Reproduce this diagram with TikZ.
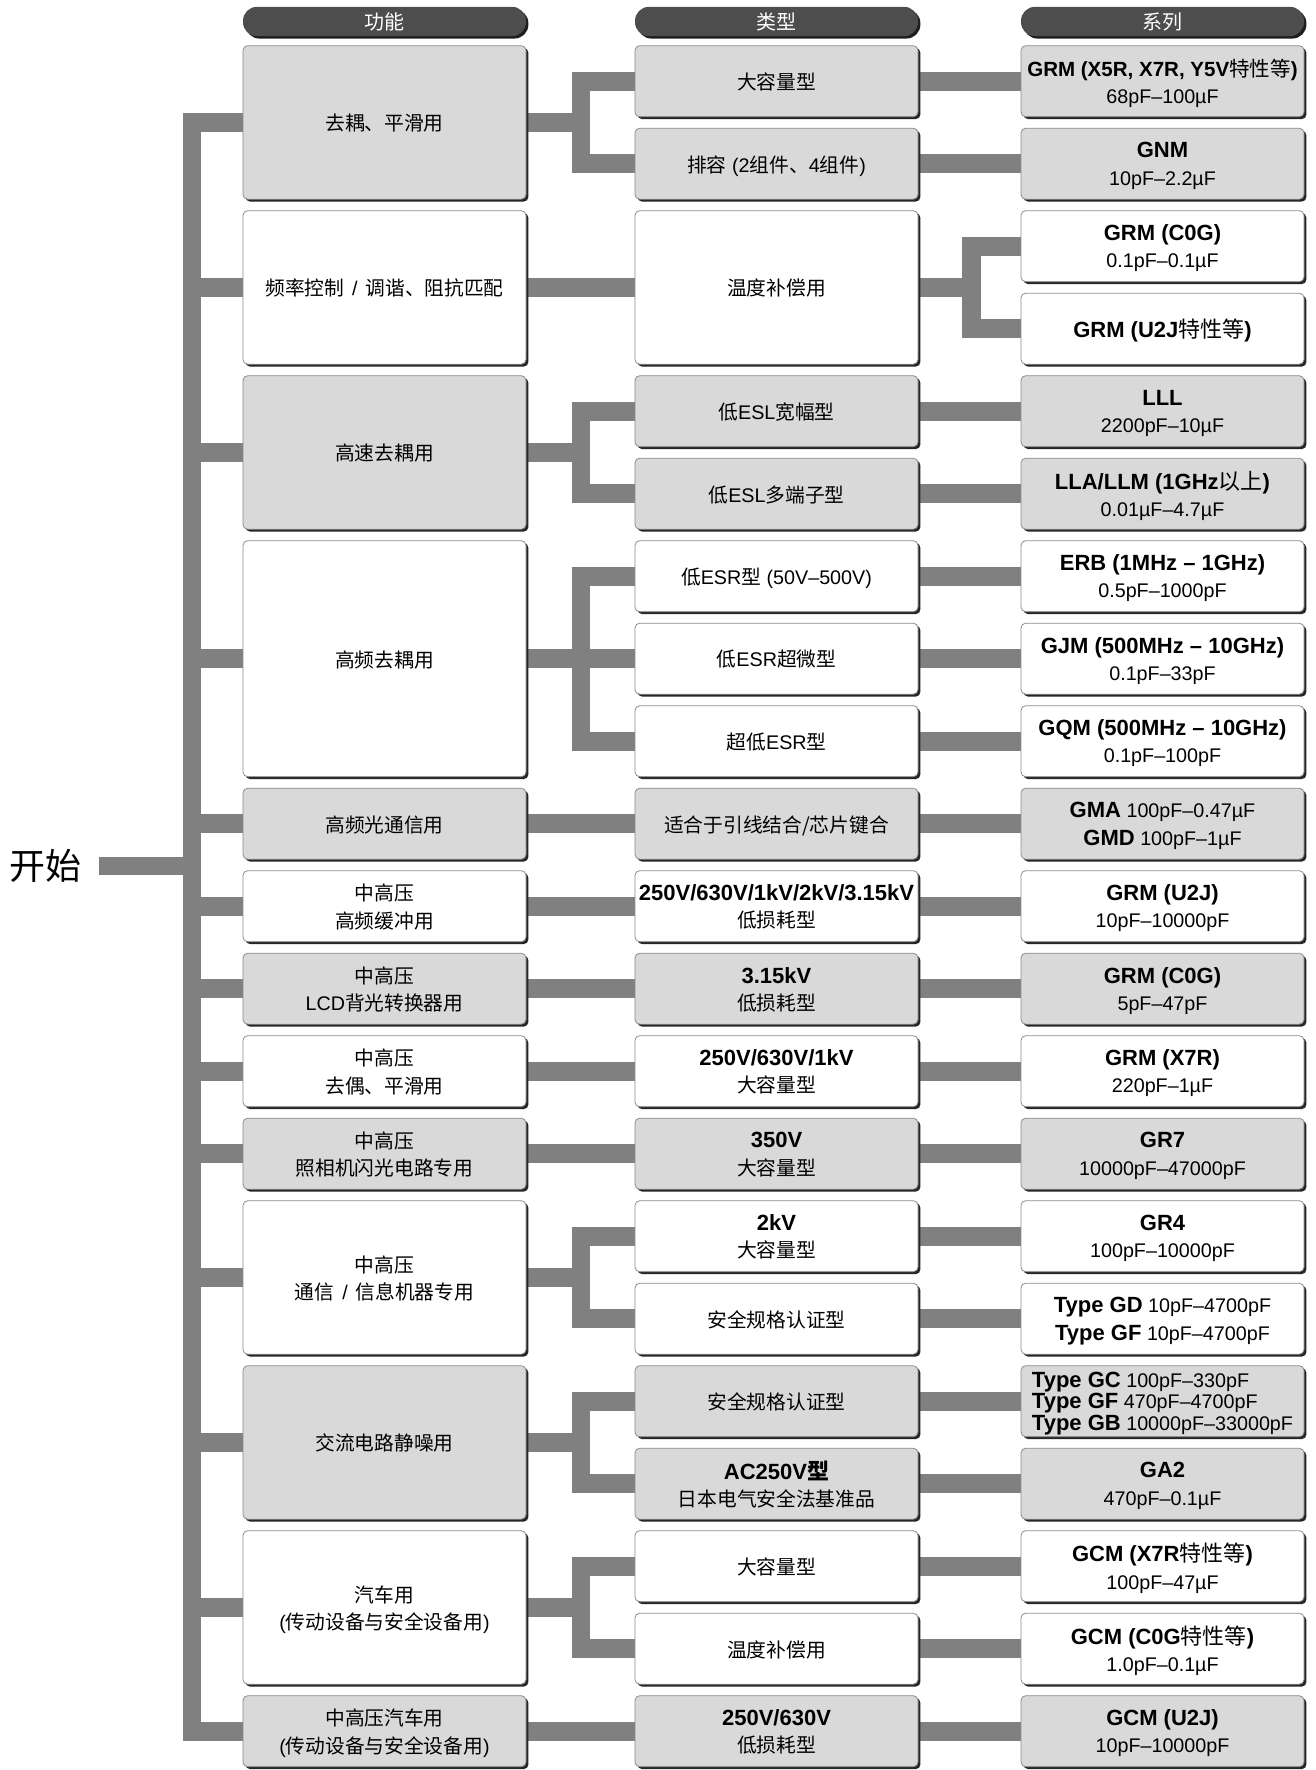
\documentclass[tikz,border=0pt]{standalone}
\usepackage{fontspec}
\setmainfont{Liberation Sans}
\newfontfamily\cjk{Noto Sans CJK SC}
\usetikzlibrary{shadows}

\pgfdeclarelayer{bars}
\pgfsetlayers{bars,main}

\newcommand{\zh}[1]{{\cjk\mdseries #1}}
\newcommand{\ser}[1]{{\bfseries\fontsize{16.5}{20.5}\selectfont #1}}

\begin{document}
\begin{tikzpicture}[x=0.75pt,y=0.75pt,yscale=-1,xscale=1,
    box/.style={draw={rgb, 255:red, 140; green, 140; blue, 140 }, line width=0.6pt, rounded corners=3.5pt,
        minimum width=212.25pt, minimum height=53.25pt, inner sep=1pt, align=center, text depth=0pt,
        font=\fontsize{14.8}{20.5}\selectfont,
        drop shadow={shadow xshift=1.8pt, shadow yshift=-1.8pt, opacity=1, fill={rgb, 255:red, 38; green, 38; blue, 38 }}},
    graybox/.style={box, fill={rgb, 255:red, 217; green, 217; blue, 217 }},
    whitebox/.style={box, fill=white},
    twounit/.style={minimum height=115.125pt},
    threeunit/.style={minimum height=177pt},
    headbox/.style={fill={rgb, 255:red, 77; green, 77; blue, 77 }, text=white, rounded corners=10.5pt,
        minimum width=212.25pt, minimum height=22pt, inner sep=0pt, font=\cjk\fontsize{15}{17}\selectfont,
        drop shadow={shadow xshift=1.8pt, shadow yshift=-1.8pt, opacity=1, fill={rgb, 255:red, 30; green, 30; blue, 30 }}},
    bar/.style={color={rgb, 255:red, 128; green, 128; blue, 128 }, line width=14pt, line join=miter}]
        %uncomment if require: \path (0,1770); %set diagram left start at 0, and has height of 1770
        \useasboundingbox (0,0) rectangle (1315,1770);

        %Rounded Rect: headers
        \node [headbox] (hfn) at (384.5,21.5) {功能};
        \node [headbox] (hty) at (776.5,21.5) {类型};
        \node [headbox] (hse) at (1162.5,21.5) {系列};

        %Text: start
        \node [font=\cjk\fontsize{27}{30}\selectfont, minimum width=81pt, inner sep=0pt] (start) at (45,866) {开始};

        %Rounded Rect: 功能
        \node [graybox,twounit] (fn1) at (384.5,122.45) {\zh{去耦、平滑用}};
        \node [whitebox,twounit] (fn2) at (384.5,287.45) {\zh{频率控制}\hspace{0.4em}/\hspace{0.4em}\zh{调谐、阻抗匹配}};
        \node [graybox,twounit] (fn3) at (384.5,452.45) {\zh{高速去耦用}};
        \node [whitebox,threeunit] (fn4) at (384.5,658.7) {\zh{高频去耦用}};
        \node [graybox] (fn5) at (384.5,823.7) {\zh{高频光通信用}};
        \node [whitebox] (fn6) at (384.5,906.2) {\zh{中高压}\\\zh{高频缓冲用}};
        \node [graybox] (fn7) at (384.5,988.7) {\zh{中高压}\\LCD\zh{背光转换器用}};
        \node [whitebox] (fn8) at (384.5,1071.2) {\zh{中高压}\\\zh{去偶、平滑用}};
        \node [graybox] (fn9) at (384.5,1153.7) {\zh{中高压}\\\zh{照相机闪光电路专用}};
        \node [whitebox,twounit] (fn10) at (384.5,1277.45) {\zh{中高压}\\\zh{通信}\hspace{0.4em}/\hspace{0.4em}\zh{信息机器专用}};
        \node [graybox,twounit] (fn11) at (384.5,1442.45) {\zh{交流电路静噪用}};
        \node [whitebox,twounit] (fn12) at (384.5,1607.45) {\zh{汽车用}\\(\zh{传动设备与安全设备用})};
        \node [graybox] (fn13) at (384.5,1731.2) {\zh{中高压汽车用}\\(\zh{传动设备与安全设备用})};

        %Rounded Rect: 类型
        \node [graybox] (ty1) at (776.5,81.2) {\zh{大容量型}};
        \node [graybox] (ty2) at (776.5,163.7) {\zh{排容} (2\zh{组件、}4\zh{组件})};
        \node [whitebox,twounit] (ty3) at (776.5,287.45) {\zh{温度补偿用}};
        \node [graybox] (ty4) at (776.5,411.2) {\zh{低}ESL\zh{宽幅型}};
        \node [graybox] (ty5) at (776.5,493.7) {\zh{低}ESL\zh{多端子型}};
        \node [whitebox] (ty6) at (776.5,576.2) {\zh{低}ESR\zh{型} (50V–500V)};
        \node [whitebox] (ty7) at (776.5,658.7) {\zh{低}ESR\zh{超微型}};
        \node [whitebox] (ty8) at (776.5,741.2) {\zh{超低}ESR\zh{型}};
        \node [graybox] (ty9) at (776.5,823.7) {\zh{适合于引线结合/芯片键合}};
        \node [whitebox] (ty10) at (776.5,906.2) {\ser{250V/630V/1kV/2kV/3.15kV}\\\zh{低损耗型}};
        \node [graybox] (ty11) at (776.5,988.7) {\ser{3.15kV}\\\zh{低损耗型}};
        \node [whitebox] (ty12) at (776.5,1071.2) {\ser{250V/630V/1kV}\\\zh{大容量型}};
        \node [graybox] (ty13) at (776.5,1153.7) {\ser{350V}\\\zh{大容量型}};
        \node [whitebox] (ty14) at (776.5,1236.2) {\ser{2kV}\\\zh{大容量型}};
        \node [whitebox] (ty15) at (776.5,1318.7) {\zh{安全规格认证型}};
        \node [graybox] (ty16) at (776.5,1401.2) {\zh{安全规格认证型}};
        \node [graybox] (ty17) at (776.5,1483.7) {\ser{AC250V{\cjk 型}}\\\zh{日本电气安全法基准品}};
        \node [whitebox] (ty18) at (776.5,1566.2) {\zh{大容量型}};
        \node [whitebox] (ty19) at (776.5,1648.7) {\zh{温度补偿用}};
        \node [graybox] (ty20) at (776.5,1731.2) {\ser{250V/630V}\\\zh{低损耗型}};

        %Rounded Rect: 系列
        \node [graybox] (se1) at (1162.5,81.2) {{\bfseries\fontsize{15.4}{20.5}\selectfont GRM (X5R, X7R, Y5V\zh{特性等})}\\68pF–100µF};
        \node [graybox] (se2) at (1162.5,163.7) {\ser{GNM}\\10pF–2.2µF};
        \node [whitebox] (se3) at (1162.5,246.2) {\ser{GRM (C0G)}\\0.1pF–0.1µF};
        \node [whitebox] (se4) at (1162.5,328.7) {\ser{GRM (U2J\zh{特性等})}};
        \node [graybox] (se5) at (1162.5,411.2) {\ser{LLL}\\2200pF–10µF};
        \node [graybox] (se6) at (1162.5,493.7) {\ser{LLA/LLM (1GHz\zh{以上})}\\0.01µF–4.7µF};
        \node [whitebox] (se7) at (1162.5,576.2) {\ser{ERB (1MHz – 1GHz)}\\0.5pF–1000pF};
        \node [whitebox] (se8) at (1162.5,658.7) {\ser{GJM (500MHz – 10GHz)}\\0.1pF–33pF};
        \node [whitebox] (se9) at (1162.5,741.2) {\ser{GQM (500MHz – 10GHz)}\\0.1pF–100pF};
        \node [graybox] (se10) at (1162.5,823.7) {\ser{GMA} 100pF–0.47µF\\\ser{GMD} 100pF–1µF};
        \node [whitebox] (se11) at (1162.5,906.2) {\ser{GRM (U2J)}\\10pF–10000pF};
        \node [graybox] (se12) at (1162.5,988.7) {\ser{GRM (C0G)}\\5pF–47pF};
        \node [whitebox] (se13) at (1162.5,1071.2) {\ser{GRM (X7R)}\\220pF–1µF};
        \node [graybox] (se14) at (1162.5,1153.7) {\ser{GR7}\\10000pF–47000pF};
        \node [whitebox] (se15) at (1162.5,1236.2) {\ser{GR4}\\100pF–10000pF};
        \node [whitebox] (se16) at (1162.5,1318.7) {\ser{Type GD} 10pF–4700pF\\\ser{Type GF} 10pF–4700pF};
        \node [graybox,align=left] (se17) at (1162.5,1401.2) {\ser{Type GC} 100pF–330pF\\[-4.5pt]\ser{Type GF} 470pF–4700pF\\[-4.5pt]\ser{Type GB} 10000pF–33000pF};
        \node [graybox] (se18) at (1162.5,1483.7) {\ser{GA2}\\470pF–0.1µF};
        \node [whitebox] (se19) at (1162.5,1566.2) {\ser{GCM (X7R\zh{特性等})}\\100pF–47µF};
        \node [whitebox] (se20) at (1162.5,1648.7) {\ser{GCM (C0G\zh{特性等})}\\1.0pF–0.1µF};
        \node [graybox] (se21) at (1162.5,1731.2) {\ser{GCM (U2J)}\\10pF–10000pF};

        %Junctions
        \coordinate (jS) at (192,866);
        \coordinate (j1) at (581,122.45);
        \coordinate (j3) at (581,452.45);
        \coordinate (j4) at (581,658.7);
        \coordinate (j10) at (581,1277.45);
        \coordinate (j11) at (581,1442.45);
        \coordinate (j12) at (581,1607.45);
        \coordinate (k3) at (971.5,287.45);

        \begin{pgfonlayer}{bars}
        %Straight Lines: trunk
        \draw [bar] (start.east) -- (jS);
        \draw [bar] (fn1.west) -| (jS) |- (fn13.west);
        \draw [bar] (fn2.west) -- (fn2.west -| jS);
        \draw [bar] (fn3.west) -- (fn3.west -| jS);
        \draw [bar] (fn4.west) -- (fn4.west -| jS);
        \draw [bar] (fn5.west) -- (fn5.west -| jS);
        \draw [bar] (fn6.west) -- (fn6.west -| jS);
        \draw [bar] (fn7.west) -- (fn7.west -| jS);
        \draw [bar] (fn8.west) -- (fn8.west -| jS);
        \draw [bar] (fn9.west) -- (fn9.west -| jS);
        \draw [bar] (fn10.west) -- (fn10.west -| jS);
        \draw [bar] (fn11.west) -- (fn11.west -| jS);
        \draw [bar] (fn12.west) -- (fn12.west -| jS);

        %Straight Lines: 功能 to 类型
        \draw [bar] (fn1.east) -- (j1);
        \draw [bar] (ty1.west) -| (j1) |- (ty2.west);
        \draw [bar] (fn2.east) -- (ty3.west);
        \draw [bar] (fn3.east) -- (j3);
        \draw [bar] (ty4.west) -| (j3) |- (ty5.west);
        \draw [bar] (fn4.east) -- (ty7.west);
        \draw [bar] (ty6.west) -| (j4) |- (ty8.west);
        \draw [bar] (fn5.east) -- (ty9.west);
        \draw [bar] (fn6.east) -- (ty10.west);
        \draw [bar] (fn7.east) -- (ty11.west);
        \draw [bar] (fn8.east) -- (ty12.west);
        \draw [bar] (fn9.east) -- (ty13.west);
        \draw [bar] (fn10.east) -- (j10);
        \draw [bar] (ty14.west) -| (j10) |- (ty15.west);
        \draw [bar] (fn11.east) -- (j11);
        \draw [bar] (ty16.west) -| (j11) |- (ty17.west);
        \draw [bar] (fn12.east) -- (j12);
        \draw [bar] (ty18.west) -| (j12) |- (ty19.west);
        \draw [bar] (fn13.east) -- (ty20.west);

        %Straight Lines: 类型 to 系列
        \draw [bar] (ty1.east) -- (se1.west);
        \draw [bar] (ty2.east) -- (se2.west);
        \draw [bar] (ty3.east) -- (k3);
        \draw [bar] (se3.west) -| (k3) |- (se4.west);
        \draw [bar] (ty4.east) -- (se5.west);
        \draw [bar] (ty5.east) -- (se6.west);
        \draw [bar] (ty6.east) -- (se7.west);
        \draw [bar] (ty7.east) -- (se8.west);
        \draw [bar] (ty8.east) -- (se9.west);
        \draw [bar] (ty9.east) -- (se10.west);
        \draw [bar] (ty10.east) -- (se11.west);
        \draw [bar] (ty11.east) -- (se12.west);
        \draw [bar] (ty12.east) -- (se13.west);
        \draw [bar] (ty13.east) -- (se14.west);
        \draw [bar] (ty14.east) -- (se15.west);
        \draw [bar] (ty15.east) -- (se16.west);
        \draw [bar] (ty16.east) -- (se17.west);
        \draw [bar] (ty17.east) -- (se18.west);
        \draw [bar] (ty18.east) -- (se19.west);
        \draw [bar] (ty19.east) -- (se20.west);
        \draw [bar] (ty20.east) -- (se21.west);
        \end{pgfonlayer}
\end{tikzpicture}
\end{document}
